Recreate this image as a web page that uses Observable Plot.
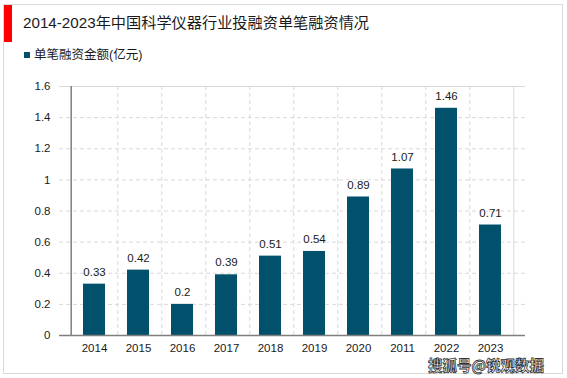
<!DOCTYPE html>
<html><head><meta charset="utf-8">
<script src="https://cdn.jsdelivr.net/npm/d3@7"></script>
<script src="https://cdn.jsdelivr.net/npm/@observablehq/plot@0.6"></script>
<style>
body{margin:0;background:#fff;}
#wrap{position:relative;width:567px;height:378px;overflow:hidden;font-family:"Liberation Sans",Arial,"Noto Sans CJK SC",sans-serif;}
#border{position:absolute;left:3px;top:4px;width:558px;height:368px;border:1px solid #d9d9d9;box-sizing:content-box;}
#redbar{position:absolute;left:4px;top:5px;width:8px;height:37px;background:#ff0000;}
#title{position:absolute;left:23px;top:10px;font-size:15.2px;color:#1a1a1a;white-space:nowrap;}
#legend{position:absolute;left:24px;top:44px;font-size:12.5px;color:#1a1a1a;white-space:nowrap;}
#legend span.sw{display:inline-block;width:6px;height:6px;background:#02516c;margin-right:4px;vertical-align:1px;}
#chart{position:absolute;left:0;top:0;}
#wm{position:absolute;left:428px;top:358px;font-size:14.5px;line-height:14px;font-weight:bold;color:#fff;-webkit-text-stroke:0.8px #333;white-space:nowrap;font-family:"Noto Sans CJK SC",sans-serif;}
</style></head>
<body>
<div id="wrap">
<div id="border"></div>
<div id="redbar"></div>
<div id="title"></div>
<div id="legend"><span class="sw"></span><span id="legtext"></span></div>
<div id="chart"></div>
<div id="wm"></div>
</div>
<script>
const titleText = "2014-2023年中国科学仪器行业投融资单笔融资情况";
const seriesName = "单笔融资金额(亿元)";
const years = ["2014","2015","2016","2017","2018","2019","2020","2011","2022","2023"];
const values = [0.33,0.42,0.2,0.39,0.51,0.54,0.89,1.07,1.46,0.71];
const yTicks = [0,0.2,0.4,0.6,0.8,1,1.2,1.4,1.6];
const watermark = "搜狐号@锐观数据";

document.getElementById("title").textContent = titleText;
document.getElementById("legtext").textContent = seriesName;
document.getElementById("wm").textContent = watermark;

const data = years.map((y,i)=>({year:y, value:values[i], idx:i}));
const W=567,H=378,mL=59,mR=42,mT=86,mB=43;
const bw = (W-mL-mR)/years.length;
const font = "Liberation Sans, Arial, sans-serif";

const chart = Plot.plot({
  width:W, height:H, marginLeft:mL, marginRight:mR, marginTop:mT, marginBottom:mB,
  style:{fontFamily:font, fontSize:"11px", color:"#1a1a1a", background:"transparent"},
  x:{domain:years, padding:0.5, label:null, tickSize:0, tickPadding:8},
  y:{domain:[0,1.6], label:null, ticks:yTicks, tickSize:0, tickPadding:9, tickFormat:d=>String(d)},
  marks:[
    Plot.ruleY(yTicks.filter(t=>t>0 && t<1.6), {stroke:"#d9d9d9", strokeDasharray:"4,3"}),
    Plot.ruleX(years.slice(0,-1), {x:d=>d, dx:bw/2, y1:0, y2:1.6, stroke:"#d9d9d9", strokeDasharray:"4,3"}),
    Plot.ruleY([1.6], {stroke:"#d9d9d9"}),
    Plot.ruleX([years[years.length-1]], {dx:bw/2, y1:0, y2:1.6, stroke:"#d9d9d9"}),
    Plot.barY(data, {x:"year", y:"value", fill:"#02516c"}),
    Plot.text(data, {x:"year", y:"value", text:d=>String(d.value), dy:-12, fill:"#1a1a1a", fontSize:11.5}),
    Plot.ruleX([years[0]], {dx:-bw/2, y1:0, y2:1.6, stroke:"#7f7f7f", strokeWidth:1.5}),
    Plot.ruleY([0], {stroke:"#7f7f7f", strokeWidth:1.5}),
    Plot.axisX({tickSize:0, tickPadding:8, fontSize:11.5}),
    Plot.axisY({ticks:yTicks, tickSize:0, tickPadding:9, fontSize:11.5, tickFormat:d=>String(d)})
  ]
});
document.getElementById("chart").appendChild(chart);
</script>
</body></html>
